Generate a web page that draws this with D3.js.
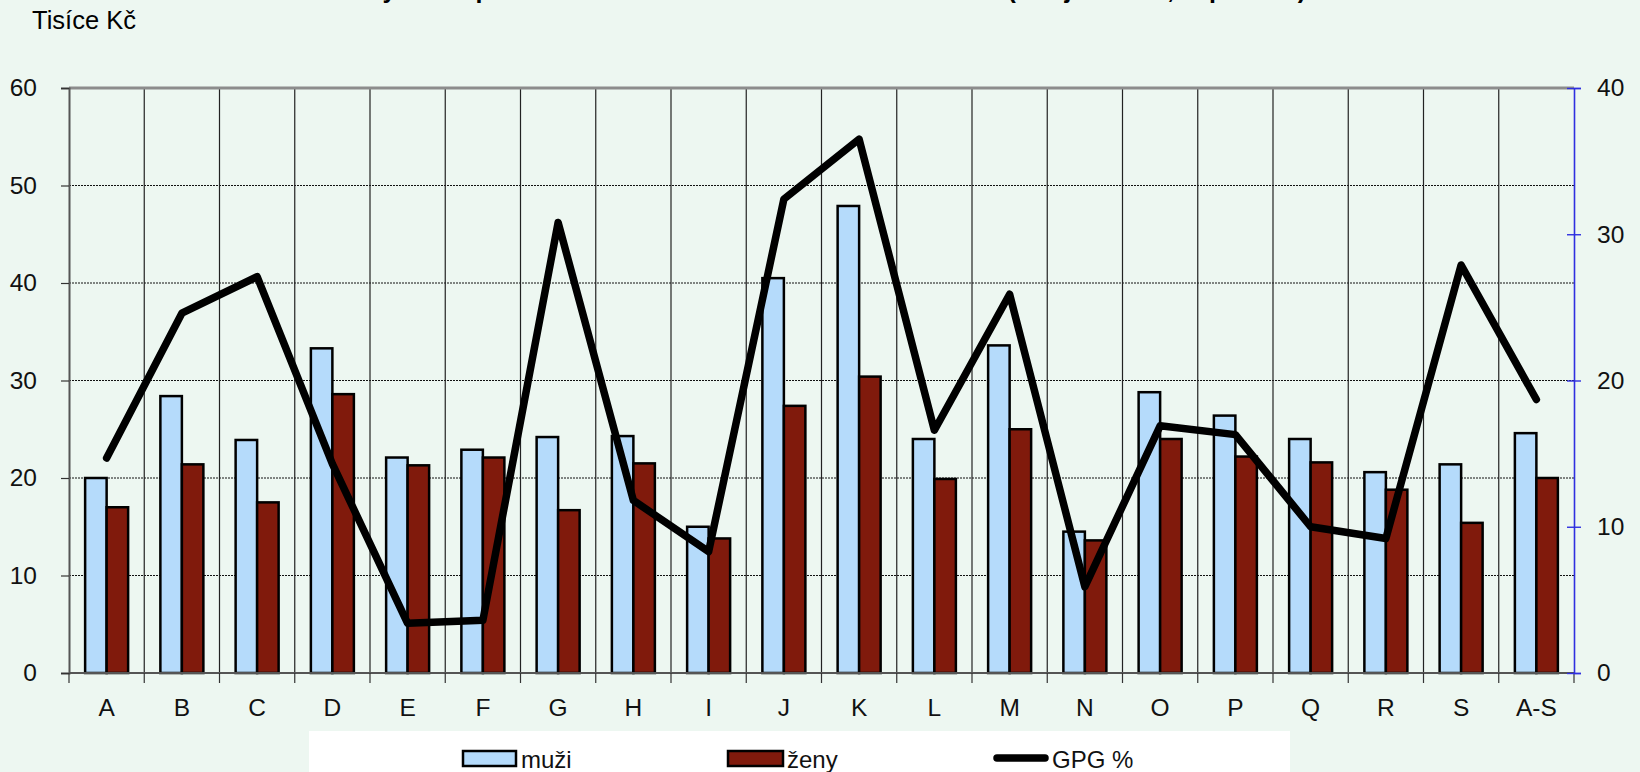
<!DOCTYPE html>
<html lang="cs">

<head>
    <meta charset="UTF-8" />
    <title>Mzdy mužů a žen podle sekcí CZ-NACE a GPG</title>

    <script src="https://d3js.org/d3.v7.min.js"></script>

    <style>
        body {
            margin: 0;
            background: #edf7f1;
        }

        svg {
            display: block;
            font-family: Arial, "Liberation Sans", sans-serif;
        }
    </style>
</head>

<body>

    <script>
        // data
        var categories = ["A", "B", "C", "D", "E", "F", "G", "H", "I", "J", "K", "L", "M", "N", "O", "P", "Q", "R", "S", "A-S"];
        var muzi = [20.0, 28.4, 23.9, 33.3, 22.1, 22.9, 24.2, 24.3, 15.0, 40.5, 47.9, 24.0, 33.6, 14.5, 28.8, 26.4, 24.0, 20.6, 21.4, 24.6];
        var zeny = [17.0, 21.4, 17.5, 28.6, 21.3, 22.1, 16.7, 21.5, 13.8, 27.4, 30.4, 19.9, 25.0, 13.6, 24.0, 22.2, 21.6, 18.8, 15.4, 20.0];
        var gpg = [14.7, 24.6, 27.1, 14.3, 3.4, 3.6, 30.8, 11.8, 8.3, 32.4, 36.5, 16.6, 25.9, 5.9, 16.9, 16.3, 10.0, 9.2, 27.9, 18.7];
        var leftTicks = [0, 10, 20, 30, 40, 50, 60];
        var rightTicks = [0, 10, 20, 30, 40];
        var seriesNames = ["muži", "ženy", "GPG %"];

        var w = 1640;
        var h = 772;
        // plot area edges (note: "top" is reserved on window, so use plot* names)
        var plotLeft = 69, plotRight = 1574, plotTop = 88, plotBottom = 673;

        var colMuzi = "#b5dbfb";
        var colZeny = "#801a0c";

        var svg = d3.select("body")
            .append("svg")
            .attr("width", w)
            .attr("height", h);

        svg.append("rect")
            .attr("width", w)
            .attr("height", h)
            .attr("fill", "#edf7f1");

        // title, mostly cut off by the top edge
        svg.append("text")
            .attr("x", 820)
            .attr("y", -2)
            .attr("text-anchor", "middle")
            .style("font-size", "25px")
            .style("font-weight", "bold")
            .text("Mzdy mužů podle sekcí CZ-NACE a rozdíl v odměňování (bez jednotek, 2. pololetí)");

        svg.append("text")
            .attr("x", 32)
            .attr("y", 29)
            .style("font-size", "25.5px")
            .text("Tisíce Kč");

        var xScale = d3.scaleBand()
            .domain(categories)
            .range([plotLeft, plotRight]);

        var xSeries = d3.scaleBand()
            .domain(["muzi", "zeny"])
            .range([0, 43]);

        var yScale = d3.scaleLinear()
            .domain([0, 60])
            .range([plotBottom, plotTop]);

        var y2Scale = d3.scaleLinear()
            .domain([0, 40])
            .range([plotBottom, plotTop]);

        var bw = xScale.bandwidth();

        // horizontal dashed grid
        svg.append("g")
            .selectAll("line")
            .data(leftTicks.filter(function (t) { return t > 0 && t < 60; }))
            .enter()
            .append("line")
            .attr("x1", plotLeft)
            .attr("x2", plotRight)
            .attr("y1", function (d) { return yScale(d); })
            .attr("y2", function (d) { return yScale(d); })
            .style("stroke", "#111")
            .style("stroke-width", 1)
            .style("stroke-dasharray", "2,1");

        // vertical grid between categories
        svg.append("g")
            .selectAll("line")
            .data(categories.slice(1))
            .enter()
            .append("line")
            .attr("x1", function (d) { return xScale(d); })
            .attr("x2", function (d) { return xScale(d); })
            .attr("y1", plotTop)
            .attr("y2", plotBottom)
            .style("stroke", "#222")
            .style("stroke-width", 1.2);

        // top border
        svg.append("line")
            .attr("x1", plotLeft)
            .attr("x2", plotRight)
            .attr("y1", plotTop)
            .attr("y2", plotTop)
            .style("stroke", "#8c8c8c")
            .style("stroke-width", 3);

        // bars
        var rows = categories.map(function (c, i) {
            return { cat: c, muzi: muzi[i], zeny: zeny[i], gpg: gpg[i] };
        });

        var groups = svg.append("g")
            .selectAll("g")
            .data(rows)
            .enter()
            .append("g")
            .attr("transform", function (d) { return "translate(" + (xScale(d.cat) + (bw - 43) / 2) + ",0)"; });

        groups.append("rect")
            .attr("x", xSeries("muzi"))
            .attr("y", function (d) { return yScale(d.muzi); })
            .attr("width", xSeries.bandwidth())
            .attr("height", function (d) { return plotBottom - yScale(d.muzi); })
            .style("fill", colMuzi)
            .style("stroke", "#000")
            .style("stroke-width", 2.5);

        groups.append("rect")
            .attr("x", xSeries("zeny"))
            .attr("y", function (d) { return yScale(d.zeny); })
            .attr("width", xSeries.bandwidth())
            .attr("height", function (d) { return plotBottom - yScale(d.zeny); })
            .style("fill", colZeny)
            .style("stroke", "#000")
            .style("stroke-width", 2.5);

        // left axis
        var leftAxis = svg.append("g")
            .attr("transform", "translate(" + plotLeft + ",0)")
            .call(d3.axisLeft(yScale).tickValues(leftTicks).tickSize(8).tickPadding(24));
        leftAxis.select(".domain").style("stroke", "#555").style("stroke-width", 2);
        leftAxis.selectAll(".tick line").style("stroke", "#333").style("stroke-width", 1.2);
        leftAxis.selectAll("text")
            .style("font-size", "24.5px")
            .style("fill", "#111")
            .style("font-family", "Arial, 'Liberation Sans', sans-serif");

        // bottom axis with ticks at category boundaries
        svg.append("line")
            .attr("x1", plotLeft)
            .attr("x2", plotRight)
            .attr("y1", plotBottom)
            .attr("y2", plotBottom)
            .style("stroke", "#555")
            .style("stroke-width", 2);

        svg.append("g")
            .selectAll("line")
            .data(categories.concat(["end"]))
            .enter()
            .append("line")
            .attr("x1", function (d) { return d === "end" ? plotRight : xScale(d); })
            .attr("x2", function (d) { return d === "end" ? plotRight : xScale(d); })
            .attr("y1", plotBottom)
            .attr("y2", plotBottom + 10)
            .style("stroke", "#333")
            .style("stroke-width", 1.2);

        svg.append("g")
            .selectAll("text")
            .data(categories)
            .enter()
            .append("text")
            .attr("x", function (d) { return xScale(d) + bw / 2; })
            .attr("y", 716)
            .attr("text-anchor", "middle")
            .style("font-size", "24.5px")
            .style("fill", "#111")
            .text(function (d) { return d; });

        // right axis (GPG %)
        var rightAxis = svg.append("g")
            .attr("transform", "translate(" + plotRight + ",0)")
            .call(d3.axisRight(y2Scale).tickValues(rightTicks).tickSize(7).tickPadding(16));
        rightAxis.select(".domain").style("stroke", "#2f2fe0").style("stroke-width", 1.6);
        rightAxis.selectAll(".tick line")
            .attr("x1", -7)
            .style("stroke", "#2f2fe0")
            .style("stroke-width", 1.4);
        rightAxis.selectAll("text")
            .style("font-size", "24.5px")
            .style("fill", "#111")
            .style("font-family", "Arial, 'Liberation Sans', sans-serif");

        // GPG line
        var line = d3.line()
            .x(function (d) { return xScale(d.cat) + bw / 2; })
            .y(function (d) { return y2Scale(d.gpg); });

        svg.append("path")
            .datum(rows)
            .attr("d", line)
            .style("fill", "none")
            .style("stroke", "#000")
            .style("stroke-width", 7.5)
            .style("stroke-linejoin", "round")
            .style("stroke-linecap", "round");

        // legend
        svg.append("rect")
            .attr("x", 309)
            .attr("y", 731)
            .attr("width", 981)
            .attr("height", 45)
            .attr("fill", "#fff");

        var legendX = [463, 728, 993];

        svg.append("rect")
            .attr("x", legendX[0])
            .attr("y", 751)
            .attr("width", 53)
            .attr("height", 15)
            .style("fill", colMuzi)
            .style("stroke", "#000")
            .style("stroke-width", 2.5);

        svg.append("rect")
            .attr("x", legendX[1])
            .attr("y", 751)
            .attr("width", 55)
            .attr("height", 15)
            .style("fill", colZeny)
            .style("stroke", "#000")
            .style("stroke-width", 2.5);

        svg.append("line")
            .attr("x1", legendX[2] + 4)
            .attr("x2", legendX[2] + 52)
            .attr("y1", 758)
            .attr("y2", 758)
            .style("stroke", "#000")
            .style("stroke-width", 7.5)
            .style("stroke-linecap", "round");

        svg.append("g")
            .selectAll("text")
            .data(seriesNames)
            .enter()
            .append("text")
            .attr("x", function (d, i) { return legendX[i] + [58, 59, 59][i]; })
            .attr("y", 768)
            .style("font-size", "24px")
            .style("fill", "#111")
            .text(function (d) { return d; });
    </script>

</body>

</html>
